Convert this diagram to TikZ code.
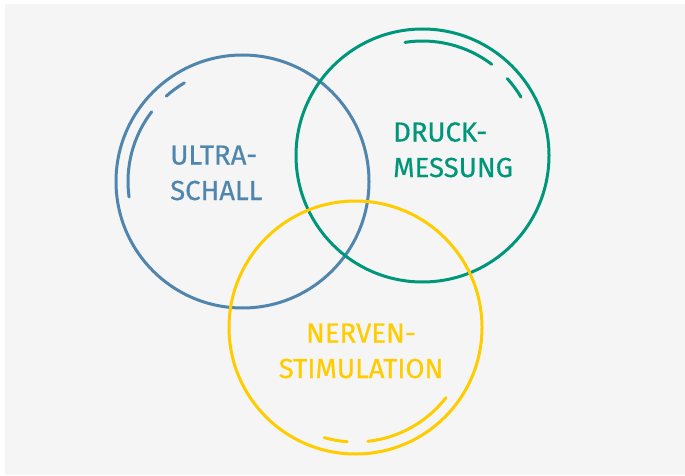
\documentclass[tikz,border=0pt]{standalone}
\usepackage{fontspec}
\setmainfont{Fira Sans}[FakeBold=0.5]
\usetikzlibrary{positioning}
\definecolor{bgGray}{RGB}{245,245,245}
\definecolor{usBlue}{RGB}{80,134,174}
\definecolor{dmGreen}{RGB}{0,150,122}
\definecolor{nsYellow}{RGB}{255,204,0}

\begin{document}
\begin{tikzpicture}[
        x=1pt, y=1pt,
        ring/.style={draw, circle, line width=3pt, minimum size=253pt, inner sep=0pt},
        inner/.style={line width=3pt, line cap=round},
        lbl/.style={inner sep=0pt, font=\fontsize{27.5}{35.5}\selectfont}
    ]
        \useasboundingbox (0,0) rectangle (685,475);
        \fill[bgGray] (5,0) rectangle (685,471);

        \node[ring, usBlue]   (ultra) at (242.5,293.5) {};
        \node[ring, dmGreen]  (druck) at (422.5,319.5) {};
        \node[ring, nsYellow] (nerv)  at (355.5,147.5) {};

        % inner arcs
        \draw[inner, usBlue] ([shift={(142.5:114.5)}]ultra.center) arc[start angle=142.5, end angle=187.8, radius=114.5];
        \draw[inner, usBlue] ([shift={(120.5:114.5)}]ultra.center) arc[start angle=120.5, end angle=131.8, radius=114.5];
        \draw[inner, dmGreen] ([shift={(52.8:114.5)}]druck.center) arc[start angle=52.8, end angle=98.8, radius=114.5];
        \draw[inner, dmGreen] ([shift={(30.7:114.5)}]druck.center) arc[start angle=30.7, end angle=42.2, radius=114.5];
        \draw[inner, nsYellow] ([shift={(-83.8:114.5)}]nerv.center) arc[start angle=-83.8, end angle=-37.8, radius=114.5];
        \draw[inner, nsYellow] ([shift={(-105.8:114.5)}]nerv.center) arc[start angle=-105.8, end angle=-94.2, radius=114.5];

        \node[lbl, usBlue, align=left, anchor=base west]     (ultraTxt) at (170,275) {ULTRA-\\SCHALL};
        \node[lbl, dmGreen, align=left, anchor=base west]    (druckTxt) at (393,298) {DRUCK-\\MESSUNG};
        \node[lbl, nsYellow, align=center, anchor=base]      (nervTxt)  at (361,97)  {NERVEN-\\STIMULATION};
    \end{tikzpicture}
\end{document}
